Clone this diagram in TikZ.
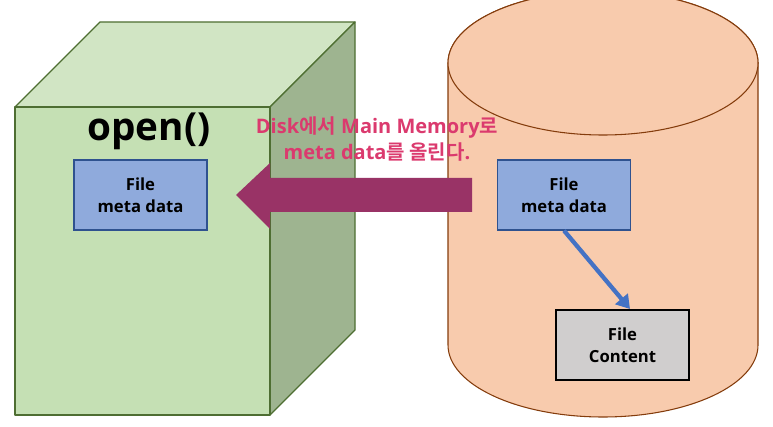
\documentclass[tikz,border=0pt]{standalone}
\usepackage{fontspec}
\usetikzlibrary{arrows.meta}
\setmainfont{Open Sans}
\newfontfamily\krfont{Noto Sans CJK KR}[BoldFont={* Bold}]
\definecolor{frontgreen}{HTML}{C5E0B4}
\definecolor{topgreen}{HTML}{D1E5C4}
\definecolor{sidegreen}{HTML}{9EB490}
\definecolor{edgegreen}{HTML}{4E6E32}
\definecolor{diskfill}{HTML}{F8CBAD}
\definecolor{diskedge}{HTML}{843C0C}
\definecolor{metafill}{HTML}{8FAADC}
\definecolor{metaedge}{HTML}{2F528F}
\definecolor{contentfill}{HTML}{D0CECE}
\definecolor{bigarrow}{HTML}{993366}
\definecolor{labelpink}{HTML}{DB3A6E}
\definecolor{linkblue}{HTML}{4472C4}
\tikzset{
  face/.style={draw=edgegreen, line width=0.9pt, line join=round},
  metabox/.style={draw=metaedge, fill=metafill, line width=0.9pt, minimum width=133*0.75pt, minimum height=70*0.75pt, inner sep=0pt, align=center, font=\bfseries\fontsize{12.5}{16.5}\selectfont},
  contentbox/.style={draw=black, fill=contentfill, line width=0.9pt, minimum width=133*0.75pt, minimum height=70*0.75pt, inner sep=0pt, align=center, font=\bfseries\fontsize{12.5}{16.5}\selectfont},
}
\newcommand{\kr}[1]{{\krfont\bfseries #1}}
\begin{document}
\begin{tikzpicture}[x=0.75pt,y=-0.75pt]
\useasboundingbox (0,0) rectangle (773,427);
% cube
\fill[frontgreen] (15,107) rectangle (270,415);
\draw[face, fill=topgreen] (15,107) -- (100,22) -- (355,22) -- (270,107) -- cycle;
\draw[face, fill=sidegreen] (270,107) -- (355,22) -- (355,330) -- (270,415) -- cycle;
\draw[face] (15,107) rectangle (270,415);
% cylinder
\begin{scope}[draw=diskedge, line width=0.8pt]
\draw[fill=diskfill] (448,63) -- (448,345) arc[start angle=180, end angle=0, x radius=155, y radius=72] -- (758,63) arc[start angle=0, end angle=-180, x radius=155, y radius=72] -- cycle;
\draw[fill=diskfill] (603,63) ellipse[x radius=155, y radius=72];
\end{scope}
% big arrow
\fill[bigarrow] (472,178) -- (270,178) -- (270,163) -- (236,195) -- (270,229) -- (270,212) -- (472,212) -- cycle;
% texts
\node[font=\bfseries\fontsize{29}{33}\selectfont] (title) at (149,131) {open()};
\node[text=labelpink, align=center, font=\bfseries\fontsize{15}{19}\selectfont] (lbl) at (377,139) {Disk\kr{에서} Main Memory\kr{로}\\meta data\kr{를 올린다}.};
% boxes
\node[metabox] (mm) at (140.5,195) {File\\meta data};
\node[metabox] (dm) at (564,195) {File\\meta data};
\node[contentbox] (fc) at (622.5,345) {File\\Content};
\coordinate (tip) at (630,309);
\draw[linkblue, line width=3.2pt, -{Triangle[width=12pt,length=10pt]}] (dm.south) -- (tip);
\end{tikzpicture}
\end{document}
